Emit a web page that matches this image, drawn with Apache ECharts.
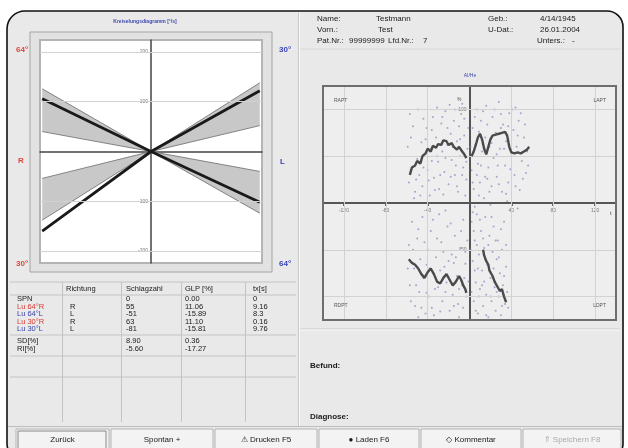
<!DOCTYPE html>
<html><head><meta charset="utf-8">
<script src="https://cdn.jsdelivr.net/npm/echarts@6/dist/echarts.min.js"></script>
<style>html,body{margin:0;padding:0;background:#fff}#c{width:628px;height:448px}</style>
</head><body><div id="c"></div>
<script>
// ---------- DATA ----------
// left: rotation diagram (fan)
const fanLineA = [[-0.98, 106], [0, 0], [0.98, -102]];
const fanLineB = [[-0.98, -160], [0, 0], [0.98, 122]];
// bands: [edge x, upper value, lower value], apex at origin
const fanBands = [[-0.98, 126, 40], [-0.98, -54, -138], [0.98, 138, 52], [0.98, -40, -124]];
const leftYTicks = [200, 100, -100, -200];

// right: nystagmus scatter + traces
const rightXTicks = [-120, -80, -40, 40, 80, 120];
const rightYGrid = [100, 50, -50, -100];
const rightYLabels = [100, -50];
const scatterUL = [[-58,22],[-55,38],[-52,12],[-50,47],[-48,30],[-46,65],[-45,18],[-43,52],[-41,80],[-40,35],[-38,8],[-37,58],[-35,92],[-34,27],[-32,70],[-30,44],[-29,15],[-27,85],[-26,55],[-24,33],[-23,98],[-21,62],[-20,20],[-18,74],[-17,46],[-15,88],[-14,30],[-12,66],[-11,12],[-9,50],[-8,95],[-6,38],[-5,72],[-3,25],[-2,58],[-56,70],[-44,90],[-31,102],[-19,105],[-10,82],[-53,5],[-36,45],[-25,9],[-13,40],[-4,8],[-7,106],
  [-59,60],[-57,95],[-54,82],[-51,25],[-49,100],[-47,8],[-44,38],[-42,68],[-39,24],[-36,78],[-33,14],[-31,50],[-28,30],[-26,92],[-23,48],[-21,80],[-18,28],[-16,60],[-14,100],[-12,18],[-9,68],[-7,30],[-5,90],[-3,44],[-1,80]];
const scatterUR = [[2,35],[3,80],[4,15],[6,62],[7,100],[8,42],[10,22],[11,88],[12,55],[14,5],[15,70],[16,104],[18,38],[19,60],[21,18],[22,92],[23,48],[25,75],[26,28],[28,108],[29,58],[31,12],[32,84],[34,40],[35,66],[37,22],[38,96],[40,50],[42,78],[43,30],[45,60],[47,88],[48,14],[50,45],[52,70],[54,32],[55,55],[5,-4],[20,-2],[36,2],[46,-6],[27,40],[9,8],[17,26],[44,102],[30,95],
  [1,60],[3,22],[5,92],[7,30],[9,76],[11,40],[13,98],[15,28],[17,84],[19,12],[21,64],[24,100],[26,52],[28,20],[30,80],[33,58],[35,10],[37,82],[39,36],[41,100],[44,18],[46,72],[49,96],[51,26],[53,84],[56,40]];
const scatterLL = [[-58,-45],[-57,-88],[-55,-20],[-53,-70],[-52,-110],[-50,-38],[-48,-95],[-47,-60],[-45,-15],[-44,-80],[-42,-118],[-40,-50],[-39,-100],[-37,-30],[-35,-75],[-34,-120],[-32,-58],[-30,-90],[-29,-12],[-27,-42],[-26,-105],[-24,-68],[-22,-85],[-21,-25],[-19,-115],[-17,-55],[-16,-98],[-14,-35],[-12,-78],[-11,-108],[-9,-48],[-7,-88],[-6,-18],[-4,-65],[-3,-100],[-2,-40],[-49,-122],[-23,-8],[-36,-112],[-10,-122],[-41,-66],[-28,-72],[-15,-64],[-5,-80],
  [-59,-70],[-56,-105],[-54,-50],[-51,-88],[-49,-28],[-46,-112],[-43,-42],[-41,-96],[-38,-70],[-35,-18],[-33,-92],[-31,-38],[-28,-116],[-25,-52],[-23,-95],[-20,-62],[-18,-22],[-15,-110],[-13,-58],[-10,-92],[-8,-30],[-6,-112],[-4,-52],[-1,-84]];
const scatterLR = [[2,-20],[3,-62],[4,-105],[5,-40],[6,-85],[7,-12],[8,-118],[9,-55],[10,-92],[11,-30],[12,-72],[13,-110],[14,-48],[15,-15],[16,-98],[17,-66],[18,-122],[19,-35],[20,-80],[21,-105],[22,-52],[23,-25],[24,-90],[25,-115],[26,-60],[27,-40],[28,-100],[29,-75],[30,-120],[31,-50],[32,-88],[33,-20],[34,-108],[35,-68],[36,-95],[8,-70],[14,-84],[4,-30],
  [1,-50],[2,-95],[3,-10],[5,-72],[6,-115],[7,-45],[9,-100],[10,-18],[12,-88],[13,-38],[15,-60],[16,-120],[18,-45],[20,-100],[21,-15],[23,-70],[25,-40],[26,-95],[28,-58],[30,-28],[31,-110],[33,-78],[35,-45],[37,-112]];
const traceUL = [[-57,30],[-55,38],[-52,40],[-50,45],[-47,42],[-45,50],[-42,53],[-40,58],[-37,55],[-35,61],[-32,59],[-30,63],[-27,62],[-25,67],[-22,66],[-20,62],[-17,64],[-15,60],[-12,57],[-10,60],[-7,55],[-5,52],[-3,48]];
const traceUR = [[2,50],[4,55],[6,62],[8,70],[10,74],[12,68],[14,58],[16,52],[18,60],[20,68],[22,72],[25,73],[28,74],[31,75],[34,76],[36,72],[38,60],[40,54],[43,53],[46,54],[49,53],[52,55],[55,57],[57,60]];
const traceLL = [[-58,-60],[-55,-64],[-52,-66],[-49,-70],[-46,-76],[-43,-80],[-40,-74],[-37,-70],[-34,-76],[-31,-84],[-28,-86],[-25,-80],[-22,-76],[-19,-82],[-16,-88],[-13,-84],[-10,-78],[-8,-82],[-6,-88],[-4,-92],[-3,-96]];
const traceLR = [[13,-50],[14,-56],[16,-62],[18,-66],[19,-72],[20,-70],[22,-78],[24,-84],[25,-82],[27,-90],[29,-94],[31,-92],[33,-100],[35,-106]];

// table
const tableHeader = ['Richtung', 'Schlagzahl', 'GLP [%]', 'tx[s]'];
const tableRowLabels = ['SPN', 'Lu 64°R', 'Lu 64°L', 'Lu 30°R', 'Lu 30°L'];
const tableRowColors = ['#1a1a1a', '#d83a32', '#3a44a8', '#d83a32', '#3a44a8'];
const tableRichtung = ['', 'R', 'L', 'R', 'L'];
const tableSchlagzahl = ['0', '55', '-51', '63', '-81'];
const tableGLP = ['0.00', '11.06', '-15.89', '11.10', '-15.81'];
const tableTx = ['0', '9.16', '8.3', '0.16', '9.76'];
const statLabels = ['SD[%]', 'RI[%]'];
const statSchlagzahl = ['8.90', '-5.60'];
const statGLP = ['0.36', '-17.27'];

const buttons = ['Zurück', 'Spontan +', '⚠ Drucken F5', '● Laden F6', '◇ Kommentar', '⇑ Speichern F8'];

// ---------- RENDER ----------
const FONT = '"Liberation Sans", Arial, sans-serif';
const g = [];
function txt(x, y, t, o) {
  o = o || {};
  g.push({type: 'text', x: x, y: y, z: 100, silent: true,
    style: {text: t, fill: o.c || '#1a1a1a', font: (o.w || 'normal') + ' ' + (o.s || 8) + 'px ' + FONT,
      align: o.a || 'left', verticalAlign: 'middle'}});
}
function ln(x1, y1, x2, y2, c, w, z) {
  g.push({type: 'line', z: z === undefined ? -5 : z, silent: true, shape: {x1: x1, y1: y1, x2: x2, y2: y2},
    style: {stroke: c, lineWidth: w || 1}});
}
function rc(x, y, w, h, fill, stroke, lw, z, r) {
  g.push({type: 'rect', z: z === undefined ? -8 : z, silent: true, shape: {x: x, y: y, width: w, height: h, r: r || 0},
    style: {fill: fill, stroke: stroke || null, lineWidth: lw || 0}});
}

// window frame
rc(7, 11, 616, 445, '#e9e9e9', '#111', 1.6, -10, [18, 16, 12, 12]);
// panel separators
ln(298.5, 13, 298.5, 426, '#c6c6c6', 1);
ln(299.5, 13, 299.5, 426, '#fafafa', 1);
ln(300, 49, 620, 49, '#d6d6d6', 1);
ln(300, 329, 620, 329, '#c8c8c8', 1);
ln(300, 330, 620, 330, '#fafafa', 1);

// left title and boxes
txt(145, 22, 'Kreiselungsdiagramm [°/s]', {c: '#4048b0', s: 5, a: 'center', w: 'bold'});
rc(30, 32, 242, 240, '#e2e2e2', '#a4a4a4', 1, -9);
rc(40, 40, 222, 223, '#ffffff', '#b4b4b4', 2, -8);
txt(16, 50, '64°', {c: '#e0453c', w: 'bold'});
txt(279, 50, '30°', {c: '#3a44b8', w: 'bold'});
txt(18, 161, 'R', {c: '#e0453c', w: 'bold'});
txt(280, 162, 'L', {c: '#3a44b8', w: 'bold'});
txt(16, 264, '30°', {c: '#e0453c', w: 'bold'});
txt(279, 264, '64°', {c: '#3a44b8', w: 'bold'});

// info header
const infoRows = [19, 30, 41];
txt(317, infoRows[0], 'Name:'); txt(376, infoRows[0], 'Testmann'); txt(488, infoRows[0], 'Geb.:'); txt(540, infoRows[0], '4/14/1945');
txt(317, infoRows[1], 'Vorn.:'); txt(378, infoRows[1], 'Test'); txt(488, infoRows[1], 'U-Dat.:'); txt(540, infoRows[1], '26.01.2004');
txt(317, infoRows[2], 'Pat.Nr.:'); txt(349, infoRows[2], '99999999'); txt(388, infoRows[2], 'Lfd.Nr.:'); txt(423, infoRows[2], '7');
txt(537, infoRows[2], 'Unters.:'); txt(572, infoRows[2], '-');

// right plot title, quadrant labels
txt(470, 76, 'AI/He', {c: '#4048b0', s: 5, a: 'center'});
rc(323, 86, 293, 234, '#eeeeee', null, 0, -8);
txt(334, 101, 'RAPT', {s: 5, c: '#555'});
txt(606, 101, 'LAPT', {s: 5, c: '#555', a: 'right'});
txt(334, 306, 'RDPT', {s: 5, c: '#555'});
txt(606, 306, 'LDPT', {s: 5, c: '#555', a: 'right'});
txt(610, 213, 't', {s: 6, c: '#555'});
txt(457, 100, '%', {s: 5, c: '#555'});
// right plot frame (above data)
g.push({type: 'rect', z: 50, silent: true, shape: {x: 323, y: 86, width: 293, height: 234},
  style: {fill: null, stroke: '#6e6e6e', lineWidth: 2}});

// table
const colX = [17, 66, 126, 185, 253];
const tTop = 282, tHead = 289;
ln(10, tTop, 296, tTop, '#c4c4c4', 1);
ln(10, 295, 296, 295, '#c4c4c4', 1);
ln(10, 335, 296, 335, '#c4c4c4', 1);
ln(10, 356, 296, 356, '#c4c4c4', 1);
ln(10, 377, 296, 377, '#c4c4c4', 1);
[62, 121, 181, 245].forEach(function (x) { ln(x + 0.5, tTop, x + 0.5, 422, '#c4c4c4', 1); });
tableHeader.forEach(function (h, i) { txt(colX[i + 1], tHead, h, {s: 7.5}); });
tableRowLabels.forEach(function (lab, i) {
  const y = 299 + i * 7.6;
  txt(colX[0], y, lab, {c: tableRowColors[i], s: 7.5});
  txt(colX[1] + 4, y, tableRichtung[i], {s: 7.5});
  txt(colX[2], y, tableSchlagzahl[i], {s: 7.5});
  txt(colX[3], y, tableGLP[i], {s: 7.5});
  txt(colX[4], y, tableTx[i], {s: 7.5});
});
statLabels.forEach(function (lab, i) {
  const y = 341 + i * 8;
  txt(colX[0], y, lab, {s: 7.5});
  txt(colX[2], y, statSchlagzahl[i], {s: 7.5});
  txt(colX[3], y, statGLP[i], {s: 7.5});
});

// Befund / Diagnose
txt(310, 366, 'Befund:', {w: 'bold'});
txt(310, 417, 'Diagnose:', {w: 'bold'});

// buttons
const btnEdges = [15, 110, 214, 318, 420, 522, 622];
ln(8, 426.5, 622, 426.5, '#bdbdbd', 1);
buttons.forEach(function (b, i) {
  const x0 = btnEdges[i] + 1, x1 = btnEdges[i + 1] - 1;
  rc(x0, 429, x1 - x0, 24, '#f3f3f3', '#b4b4b4', 1, -7);
  txt((x0 + x1) / 2, 440, b, {a: 'center', c: i === 5 ? '#aaaaaa' : '#1a1a1a'});
});
rc(18, 431, 88, 20, null, '#888', 1, -6);

const chart = echarts.init(document.getElementById('c'), null, {renderer: 'canvas'});
const gridLineStyle = {color: '#d2d2d2', width: 1, type: 'solid'};
const option = {
  backgroundColor: '#ffffff',
  animation: false,
  graphic: {elements: g},
  grid: [
    {left: 40, top: 40, width: 222, height: 223, show: false},
    {left: 323, top: 86, width: 293, height: 234, show: false}
  ],
  xAxis: [
    {gridIndex: 0, type: 'value', min: -1, max: 1, position: 'bottom', offset: -111.5,
      axisLine: {onZero: false, lineStyle: {color: '#444', width: 1.5}},
      axisTick: {show: false}, axisLabel: {show: false}, splitLine: {show: false}},
    {gridIndex: 1, type: 'value', min: -140, max: 140, position: 'bottom', offset: -117,
      axisLine: {onZero: false, lineStyle: {color: '#555', width: 2}},
      axisTick: {show: true, customValues: rightXTicks, length: 3, lineStyle: {color: '#666', width: 2}},
      axisLabel: {customValues: rightXTicks, fontSize: 5, color: '#777', margin: 5, fontFamily: 'Liberation Sans'},
      splitLine: {show: false}}
  ],
  yAxis: [
    {gridIndex: 0, type: 'value', min: -224, max: 224, position: 'left', offset: -111,
      axisLine: {onZero: false, lineStyle: {color: '#444', width: 1.5}},
      axisTick: {show: true, customValues: leftYTicks, length: 3, lineStyle: {color: '#888'}},
      axisLabel: {customValues: leftYTicks, fontSize: 5, color: '#777', margin: 3, fontFamily: 'Liberation Sans'},
      splitLine: {show: false}},
    {gridIndex: 1, type: 'value', min: -125, max: 125, position: 'left', offset: -146.5,
      axisLine: {onZero: false, lineStyle: {color: '#555', width: 2}},
      axisTick: {show: false},
      axisLabel: {customValues: rightYLabels, fontSize: 5, color: '#777', margin: 3, fontFamily: 'Liberation Sans'},
      splitLine: {show: false}}
  ],
  series: [
    {type: 'custom', xAxisIndex: 0, yAxisIndex: 0, data: fanBands, encode: {x: 0, y: [1, 2]}, z: 2, silent: true,
      renderItem: function (params, api) {
        const x = api.value(0), hi = api.value(1), lo = api.value(2);
        const o = api.coord([0, 0]), a = api.coord([x, hi]), b = api.coord([x, lo]);
        return {type: 'group', children: [
          {type: 'polygon', shape: {points: [o, a, b]}, style: {fill: '#c8c8c8'}},
          {type: 'line', shape: {x1: o[0], y1: o[1], x2: a[0], y2: a[1]}, style: {stroke: '#6a6a6a', lineWidth: 0.8}},
          {type: 'line', shape: {x1: o[0], y1: o[1], x2: b[0], y2: b[1]}, style: {stroke: '#6a6a6a', lineWidth: 0.8}}
        ]};
      },
      markLine: {silent: true, symbol: 'none', label: {show: false}, lineStyle: gridLineStyle,
        data: leftYTicks.map(function (v) { return {yAxis: v}; })}
    },
    {type: 'line', xAxisIndex: 0, yAxisIndex: 0, data: fanLineA, showSymbol: false, z: 4,
      lineStyle: {color: '#1a1a1a', width: 2.8}},
    {type: 'line', xAxisIndex: 0, yAxisIndex: 0, data: fanLineB, showSymbol: false, z: 4,
      lineStyle: {color: '#1a1a1a', width: 2.8}},
    {type: 'scatter', xAxisIndex: 1, yAxisIndex: 1, data: [].concat(scatterUL, scatterUR, scatterLL, scatterLR),
      symbolSize: 2, itemStyle: {color: '#8088bc', opacity: 0.7}, z: 3, silent: true,
      markLine: {silent: true, symbol: 'none', label: {show: false}, lineStyle: gridLineStyle,
        data: rightXTicks.map(function (v) { return {xAxis: v}; }).concat(rightYGrid.map(function (v) { return {yAxis: v}; }))}
    },
    {type: 'line', xAxisIndex: 1, yAxisIndex: 1, data: traceUL, showSymbol: false, z: 5, lineStyle: {color: '#4a4a4a', width: 2.4}},
    {type: 'line', xAxisIndex: 1, yAxisIndex: 1, data: traceUR, showSymbol: false, z: 5, lineStyle: {color: '#4a4a4a', width: 2.4}},
    {type: 'line', xAxisIndex: 1, yAxisIndex: 1, data: traceLL, showSymbol: false, z: 5, lineStyle: {color: '#4a4a4a', width: 2.4}},
    {type: 'line', xAxisIndex: 1, yAxisIndex: 1, data: traceLR, showSymbol: false, z: 5, lineStyle: {color: '#4a4a4a', width: 2.4}}
  ]
};
chart.setOption(option);
</script></body></html>
